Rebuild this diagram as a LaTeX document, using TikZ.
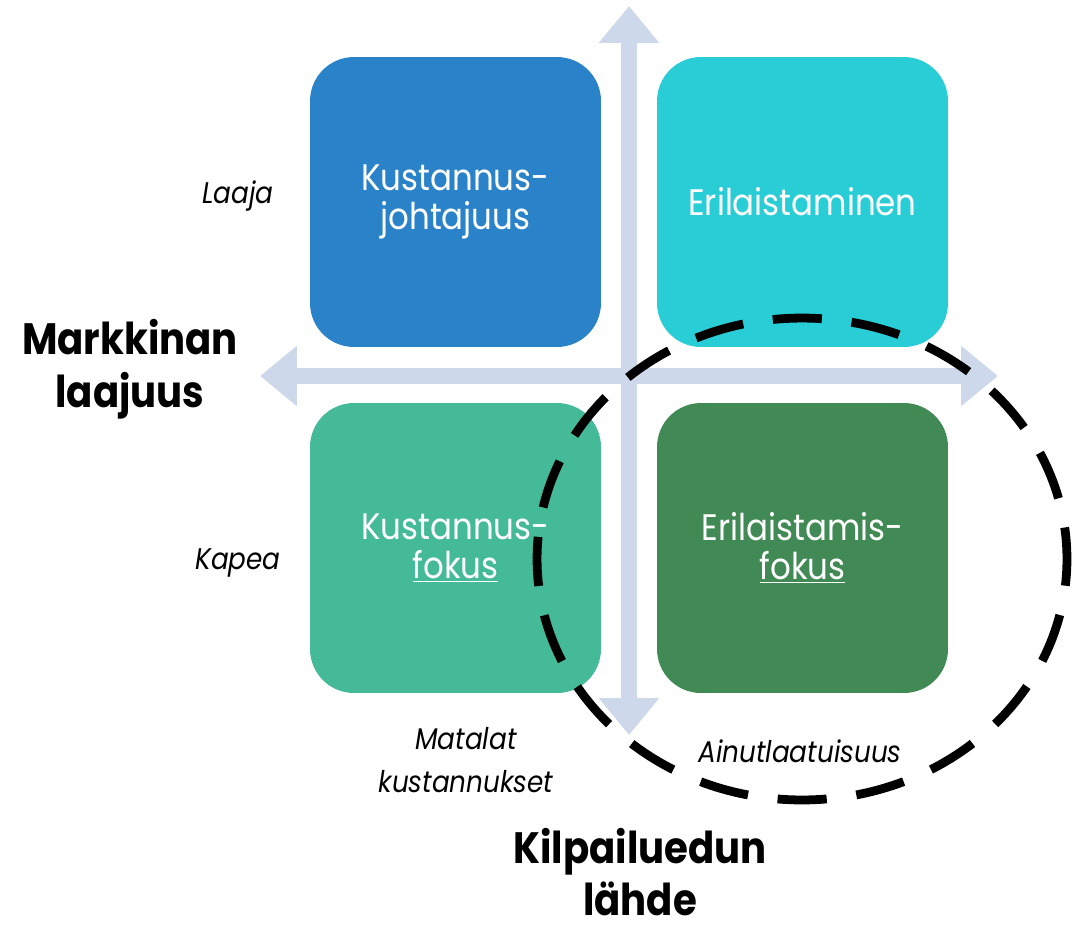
\documentclass[tikz,border=0pt]{standalone}
\usepackage{fontspec}
\setmainfont{Poppins}[FakeStretch=0.88]
\usetikzlibrary{arrows.meta}
\definecolor{cBlue}{HTML}{2A82C8}
\definecolor{cCyan}{HTML}{29CDD6}
\definecolor{cTeal}{HTML}{44BA98}
\definecolor{cGreen}{HTML}{418A55}
\definecolor{cAxis}{HTML}{CDD8EA}
\tikzset{
  quad/.style={draw=none, rounded corners=25pt, minimum width=5.82cm, minimum height=5.8cm,
    text=white, align=center, font=\fontsize{21}{22.5}\selectfont, inner sep=0pt},
  axis/.style={draw=cAxis, line width=8.8pt, {Triangle[length=21pt,width=33pt]}-{Triangle[length=21pt,width=33pt]}},
  lbl/.style={align=center, font=\fontsize{17}{24}\selectfont\itshape},
  big/.style={align=center, font=\fontsize{25}{30}\selectfont\bfseries, inner sep=1pt},
  ring/.style={draw=black, line width=5pt, dash pattern=on 28pt off 17pt, dash phase=10pt}
}
\begin{document}
\begin{tikzpicture}[x=0.02cm,y=-0.02cm]
\useasboundingbox (0,0) rectangle (1074,924);
\node[quad, fill=cBlue] (tl) at (455.5,202) {Kustannus-\\johtajuus};
\node[quad, fill=cCyan] (tr) at (802.5,202) {Erilaistaminen};
\node[quad, fill=cTeal] (bl) at (455.5,548) {Kustannus-\\\underline{fokus}};
\node[quad, fill=cGreen] (br) at (802.5,548) {Erilaistamis-\\\underline{fokus}};
\coordinate (vt) at (629,6);
\coordinate (vb) at (629,735);
\coordinate (hl) at (260,376);
\coordinate (hr) at (998,376);
\draw[axis] (vb) -- (vt);
\draw[axis] (hl) -- (hr);
\node[lbl] (laaja) at (238,196) {Laaja};
\node[lbl] (kapea) at (238,563) {Kapea};
\node[lbl] (mat) at (466,760) {Matalat\\kustannukset};
\node[lbl] (ain) at (800,751) {Ainutlaatuisuus};
\node[big] (mark) at (130,369) {Markkinan\\laajuus};
\node[big] (kil) at (640,872) {Kilpailuedun\\lähde};
\draw[ring] (802,559) ellipse [x radius=5.3cm, y radius=4.82cm];
\end{tikzpicture}
\end{document}
